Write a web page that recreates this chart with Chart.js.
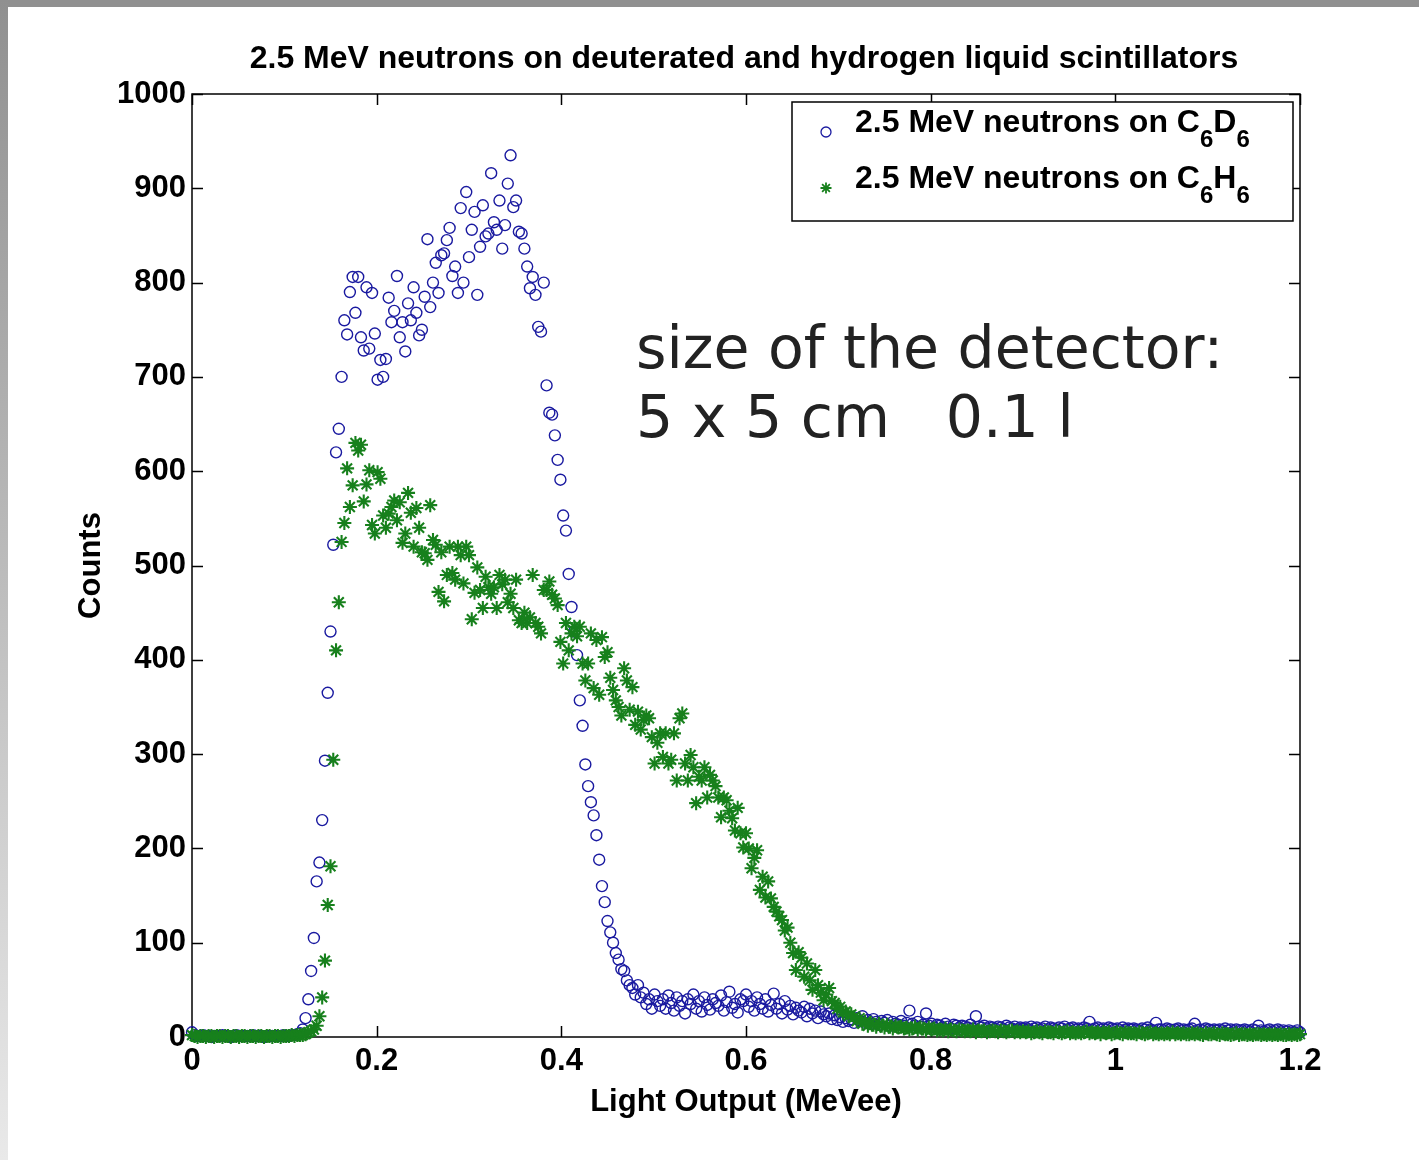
<!DOCTYPE html>
<html>
<head>
<meta charset="utf-8">
<title>2.5 MeV neutrons on deuterated and hydrogen liquid scintillators</title>
<script src="https://cdn.jsdelivr.net/npm/chart.js@4.4.1/dist/chart.umd.min.js"></script>
<style>
  html, body { margin: 0; padding: 0; background: #fff; }
  #wrap { position: relative; width: 1419px; height: 1160px; overflow: hidden; }
  #topbar { position: absolute; left: 0; top: 0; width: 1419px; height: 7px; background: #909090; }
  #leftbar { position: absolute; left: 0; top: 0; width: 8px; height: 1160px; background: linear-gradient(#909090, #b8b8b8 45%, #e9e9e9); }
  canvas { position: absolute; left: 0; top: 0; }
</style>
</head>
<body>
<div id="wrap">
  <canvas id="chart" width="1419" height="1160"></canvas>
  <div id="topbar"></div>
  <div id="leftbar"></div>
</div>
<script>
// channel width of the light output histogram (MeVee)
const binWidth = 0.003;

// counts per channel, C6D6 (blue circles), 10 channels per row
const d6Counts = [
  5, 2, 1, 1, 2, 1, 1, 0, 1, 1,
  1, 2, 1, 1, 0, 1, 2, 1, 1, 1,
  1, 1, 2, 1, 1, 1, 0, 1, 1, 1,
  1, 1, 1, 2, 1, 1, 2, 2, 3, 4,
  8, 20, 40, 70, 105, 165, 185, 230, 293, 365,
  430, 522, 620, 645, 700, 760, 745, 790, 806, 768,
  806, 742, 728, 795, 730, 789, 746, 697, 718, 700,
  719, 784, 758, 770, 807, 742, 758, 727, 778, 760,
  795, 768, 744, 750, 785, 846, 774, 800, 821, 789,
  829, 831, 845, 858, 807, 817, 789, 879, 800, 896,
  827, 856, 875, 787, 838, 882, 849, 852, 916, 864,
  856, 887, 836, 861, 905, 935, 880, 887, 854, 852,
  836, 817, 794, 806, 787, 753, 748, 800, 691, 662,
  660, 638, 612, 591, 553, 537, 491, 456, 430, 405,
  357, 330, 289, 266, 249, 235, 214, 188, 160, 143,
  123, 111, 100, 89, 82, 72, 70, 60, 55, 52,
  45, 55, 42, 47, 35, 40, 30, 45, 38, 33,
  40, 30, 44, 36, 28, 42, 33, 38, 25, 40,
  35, 45, 30, 38, 27, 42, 34, 29, 40, 36,
  33, 44, 28, 37, 48, 31, 35, 26, 40, 38,
  45, 32, 38, 28, 42, 35, 30, 40, 27, 34,
  46, 30, 35, 25, 38, 29, 33, 24, 31, 28,
  26, 32, 22, 30, 25, 28, 20, 27, 24, 22,
  25, 19, 23, 18, 21, 16, 20, 17, 19, 15,
  20, 17, 22, 15, 18, 14, 19, 16, 13, 17,
  15, 18, 12, 16, 14, 13, 17, 12, 15, 28,
  14, 12, 16, 11, 13, 25, 12, 14, 10, 13,
  12, 10, 14, 11, 9, 13, 12, 10, 12, 11,
  10, 13, 9, 22, 11, 10, 12, 9, 11, 10,
  9, 11, 10, 8, 12, 10, 9, 11, 8, 10,
  9, 10, 8, 11, 9, 10, 8, 9, 11, 8,
  10, 9, 8, 10, 9, 11, 8, 9, 10, 8,
  9, 8, 10, 9, 16, 8, 9, 10, 8, 9,
  8, 10, 9, 8, 9, 7, 10, 8, 9, 8,
  9, 8, 7, 9, 8, 10, 8, 7, 15, 8,
  8, 7, 9, 8, 7, 8, 9, 7, 8, 7,
  8, 9, 14, 7, 8, 7, 9, 8, 7, 8,
  7, 8, 7, 9, 7, 8, 6, 8, 7, 7,
  8, 7, 6, 8, 7, 12, 7, 6, 7, 8,
  6, 7, 8, 6, 7, 6, 7, 6, 5, 7,
  5
];

// counts per channel, C6H6 (green stars)
const h6Counts = [
  2, 1, 0, 1, 1, 0, 1, 1, 0, 1,
  1, 0, 1, 1, 0, 1, 1, 0, 1, 1,
  0, 1, 1, 0, 1, 1, 0, 1, 1, 0,
  1, 1, 0, 1, 1, 1, 2, 1, 2, 2,
  2, 3, 5, 6, 8, 12, 22, 42, 81, 140,
  181, 294, 410, 461, 525, 545, 603, 562, 585, 630,
  622, 628, 568, 586, 601, 543, 534, 599, 592, 553,
  540, 555, 562, 569, 548, 567, 524, 534, 577, 556,
  520, 561, 540, 514, 513, 506, 564, 527, 522, 472,
  514, 462, 490, 520, 492, 485, 520, 511, 481, 520,
  511, 443, 471, 498, 474, 455, 488, 477, 470, 477,
  455, 490, 480, 485, 461, 470, 455, 485, 442, 439,
  450, 439, 445, 490, 439, 435, 428, 474, 474, 483,
  469, 465, 458, 419, 396, 439, 410, 428, 435, 425,
  435, 396, 378, 396, 428, 370, 421, 363, 424, 403,
  408, 381, 368, 357, 350, 341, 391, 378, 347, 371,
  331, 345, 326, 336, 341, 338, 318, 290, 312, 322,
  297, 322, 290, 294, 322, 272, 338, 343, 290, 272,
  299, 286, 248, 276, 272, 286, 254, 278, 272, 266,
  254, 233, 254, 251, 240, 232, 219, 243, 216, 201,
  216, 200, 179, 190, 198, 156, 170, 148, 165, 147,
  138, 133, 128, 124, 113, 116, 100, 89, 71, 90,
  84, 64, 78, 60, 50, 71, 55, 47, 39, 45,
  52, 38, 36, 30, 32, 26, 27, 22, 24, 21,
  17, 20, 14, 16, 12, 15, 13, 11, 14, 12,
  10, 13, 11, 9, 12, 10, 11, 9, 10, 8,
  9, 11, 8, 10, 9, 7, 10, 8, 9, 7,
  8, 7, 9, 6, 8, 7, 6, 8, 7, 6,
  7, 6, 8, 5, 7, 6, 7, 5, 6, 7,
  6, 5, 7, 6, 5, 6, 7, 5, 6, 5,
  6, 5, 6, 4, 5, 6, 5, 4, 6, 5,
  5, 4, 6, 5, 4, 5, 6, 4, 5, 4,
  5, 4, 5, 6, 4, 5, 4, 5, 3, 5,
  4, 5, 3, 4, 5, 4, 3, 5, 4, 4,
  4, 3, 5, 4, 3, 4, 5, 3, 4, 3,
  4, 3, 4, 3, 5, 3, 4, 3, 4, 3,
  3, 4, 3, 4, 3, 2, 4, 3, 3, 4,
  3, 2, 4, 3, 3, 2, 3, 4, 2, 3,
  3, 2, 3, 2, 3, 3, 2, 3, 2, 3,
  2, 3, 2, 3, 2, 2, 3, 2, 3, 2,
  3
];

// legend names, "_x" marks a subscript character
const seriesNames = ['2.5 MeV neutrons on C_6D_6', '2.5 MeV neutrons on C_6H_6'];
const chartTitle = '2.5 MeV neutrons on deuterated and hydrogen liquid scintillators';
const xTitle = 'Light Output (MeVee)';
const yTitle = 'Counts';
const noteLines = ['size of the detector:', '5 x 5 cm   0.1 l'];

const blue = '#1a1aa0';
const green = '#17801c';
const labelFont = { family: '"Liberation Sans", Arial, sans-serif', size: 31, weight: 'bold' };
const tickLen = 11;

function toPoints(counts) {
  return counts.map((c, i) => ({ x: +(i * binWidth).toFixed(3), y: c }));
}

// text with subscripts, drawn left to right
function drawRich(ctx, text, x, y, size, subSize, drop) {
  let cx = x;
  for (let i = 0; i < text.length; i++) {
    let ch = text[i];
    let sub = false;
    if (ch === '_' && i + 1 < text.length) { sub = true; ch = text[++i]; }
    ctx.font = 'bold ' + (sub ? subSize : size) + 'px ' + labelFont.family;
    ctx.fillText(ch, cx, sub ? y + drop : y);
    cx += ctx.measureText(ch).width;
  }
}

function drawMarker(ctx, style, x, y, r, color, lw) {
  ctx.save();
  ctx.strokeStyle = color;
  ctx.lineWidth = lw;
  ctx.beginPath();
  if (style === 'circle') {
    ctx.arc(x, y, r, 0, Math.PI * 2);
  } else {
    for (let k = 0; k < 4; k++) {
      const a = k * Math.PI / 4;
      ctx.moveTo(x - Math.cos(a) * r, y - Math.sin(a) * r);
      ctx.lineTo(x + Math.cos(a) * r, y + Math.sin(a) * r);
    }
  }
  ctx.stroke();
  ctx.restore();
}

const frame = {
  id: 'frame',
  beforeDatasetsDraw(chart) {
    const { ctx, chartArea: a, scales: { x, y } } = chart;
    ctx.save();
    ctx.strokeStyle = '#000';
    ctx.lineWidth = 1.5;
    ctx.strokeRect(a.left, a.top, a.right - a.left, a.bottom - a.top);
    ctx.beginPath();
    x.ticks.forEach(t => {
      const px = Math.round(x.getPixelForValue(t.value)) + 0.5;
      ctx.moveTo(px, a.bottom); ctx.lineTo(px, a.bottom - tickLen);
      ctx.moveTo(px, a.top); ctx.lineTo(px, a.top + tickLen);
    });
    y.ticks.forEach(t => {
      const py = Math.round(y.getPixelForValue(t.value)) + 0.5;
      ctx.moveTo(a.left, py); ctx.lineTo(a.left + tickLen, py);
      ctx.moveTo(a.right, py); ctx.lineTo(a.right - tickLen, py);
    });
    ctx.stroke();
    ctx.restore();
  },
  afterDraw(chart) {
    const { ctx, chartArea: a } = chart;
    ctx.save();
    ctx.fillStyle = '#000';
    ctx.textBaseline = 'alphabetic';

    // title
    ctx.font = 'bold 32px ' + labelFont.family;
    ctx.textAlign = 'center';
    ctx.fillText(chartTitle, (a.left + a.right) / 2 - 2, a.top - 26);

    // legend box
    ctx.textAlign = 'left';
    const bx = a.right - 508, by = a.top + 8, bw = 501, bh = 119;
    ctx.fillStyle = '#fff';
    ctx.fillRect(bx, by, bw, bh);
    ctx.strokeStyle = '#000';
    ctx.lineWidth = 1.5;
    ctx.strokeRect(bx, by, bw, bh);
    ctx.fillStyle = '#000';
    const styles = [['circle', blue, 5, 1.3], ['star', green, 5.5, 1.8]];
    seriesNames.forEach((name, i) => {
      const rowY = by + 30 + i * 56;
      drawMarker(ctx, styles[i][0], bx + 34, rowY, styles[i][2], styles[i][1], styles[i][3]);
      drawRich(ctx, name, bx + 63, rowY, 32, 24, 15);
    });

    // annotation
    ctx.fillStyle = '#222';
    ctx.font = '58.5px "DejaVu Sans", sans-serif';
    ctx.fillText(noteLines[0], 636, 368);
    ctx.fillText(noteLines[1], 636, 437);
    ctx.restore();
  }
};

new Chart(document.getElementById('chart'), {
  type: 'scatter',
  data: {
    datasets: [
      {
        label: '2.5 MeV neutrons on C₆D₆',
        data: toPoints(d6Counts),
        pointStyle: 'circle',
        pointRadius: 5.5,
        borderWidth: 1.4,
        borderColor: blue,
        backgroundColor: 'rgba(0,0,0,0)',
        order: 2,
        clip: false
      },
      {
        label: '2.5 MeV neutrons on C₆H₆',
        data: toPoints(h6Counts),
        pointStyle: 'star',
        pointRadius: 7,
        borderWidth: 2.1,
        borderColor: green,
        backgroundColor: green,
        order: 1,
        clip: false
      }
    ]
  },
  options: {
    responsive: false,
    animation: false,
    devicePixelRatio: 1,
    layout: { padding: { left: 0, top: 94, right: 119, bottom: 0 } },
    plugins: {
      legend: { display: false },
      tooltip: { enabled: false },
      title: { display: false }
    },
    scales: {
      x: {
        type: 'linear',
        min: 0,
        max: 1.2,
        afterFit: s => { s.height = 123; },
        grid: { display: false, drawTicks: false },
        border: { display: false },
        ticks: {
          stepSize: 0.2,
          padding: 6,
          color: '#000',
          font: labelFont,
          maxRotation: 0,
          autoSkip: false,
          callback: v => String(+v.toFixed(1))
        },
        title: { display: true, text: xTitle, color: '#000', font: labelFont, padding: { top: 0, bottom: 39 } }
      },
      y: {
        min: 0,
        max: 1000,
        afterFit: s => { s.width = 192; },
        grid: { display: false, drawTicks: false },
        border: { display: false },
        ticks: { stepSize: 100, padding: 6, color: '#000', font: labelFont, callback: v => String(v) },
        title: { display: true, text: yTitle, color: '#000', font: labelFont, padding: { top: 73, bottom: 0 } }
      }
    }
  },
  plugins: [frame]
});
</script>
</body>
</html>
